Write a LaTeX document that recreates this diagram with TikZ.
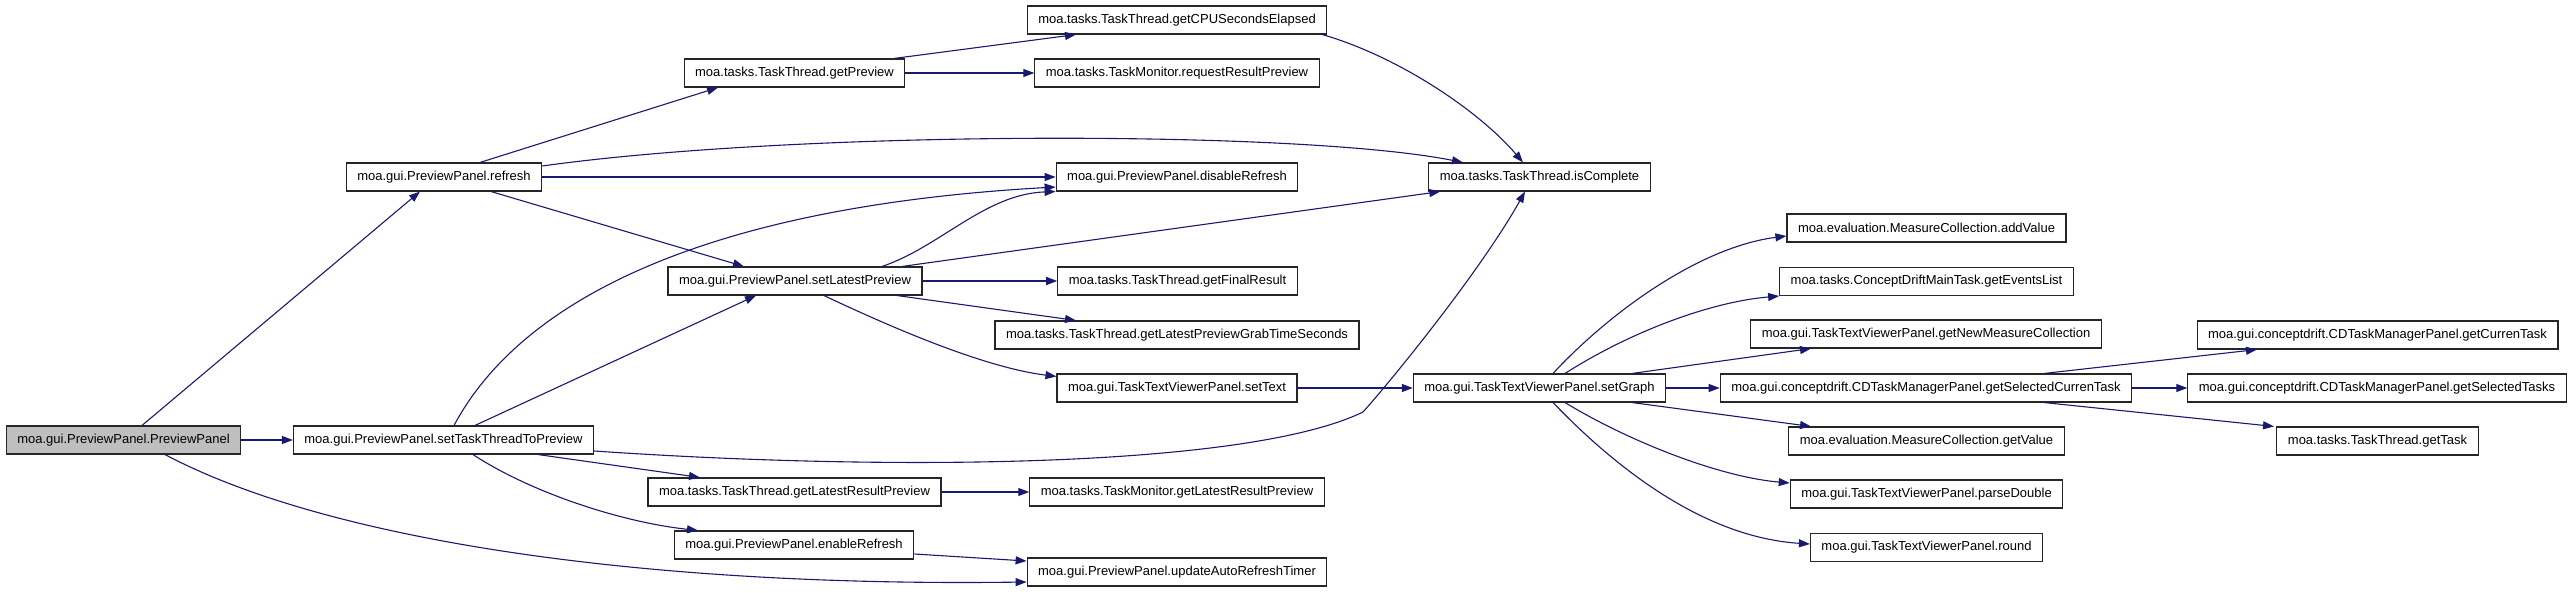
\documentclass[tikz,border=0pt]{standalone}
\usepackage{fontspec}
\setmainfont{Liberation Sans}
\usetikzlibrary{arrows.meta}
\definecolor{edgeblue}{HTML}{191970}
\tikzset{
  fn/.style={draw=black!85, line width=1.1pt, fill=white, inner xsep=11pt, inner ysep=0pt,
    minimum height=28pt, font=\fontsize{13}{15}\selectfont},
  rootfn/.style={fn, fill=black!25},
  call/.style={draw=edgeblue, line width=1.1pt, -{Triangle[length=11pt,width=8pt]}}
}

\begin{document}
\begin{tikzpicture}[x=1pt, y=1pt]
	\useasboundingbox (0,0) rectangle (2576,592);
	% functions
	\node[rootfn] (pp) at (123.5,152) {moa.gui.PreviewPanel.PreviewPanel};
	\node[fn] (refresh) at (444,415) {moa.gui.PreviewPanel.refresh};
	\node[fn] (settask) at (443.5,152) {moa.gui.PreviewPanel.setTaskThreadToPreview};
	\node[fn] (getpreview) at (794.5,519) {moa.tasks.TaskThread.getPreview};
	\node[fn] (setlatest) at (795,311) {moa.gui.PreviewPanel.setLatestPreview};
	\node[fn] (threadlatest) at (794.5,100) {moa.tasks.TaskThread.getLatestResultPreview};
	\node[fn] (enable) at (794,47) {moa.gui.PreviewPanel.enableRefresh};
	\node[fn] (cpusec) at (1177,572) {moa.tasks.TaskThread.getCPUSecondsElapsed};
	\node[fn] (reqpreview) at (1177,519) {moa.tasks.TaskMonitor.requestResultPreview};
	\node[fn] (disable) at (1177,415) {moa.gui.PreviewPanel.disableRefresh};
	\node[fn] (finalresult) at (1177.5,311) {moa.tasks.TaskThread.getFinalResult};
	\node[fn] (grabtime) at (1177,257) {moa.tasks.TaskThread.getLatestPreviewGrabTimeSeconds};
	\node[fn] (settext) at (1177,204) {moa.gui.TaskTextViewerPanel.setText};
	\node[fn] (monitorlatest) at (1177,100) {moa.tasks.TaskMonitor.getLatestResultPreview};
	\node[fn] (autotimer) at (1177,20) {moa.gui.PreviewPanel.updateAutoRefreshTimer};
	\node[fn] (iscomplete) at (1539.5,415) {moa.tasks.TaskThread.isComplete};
	\node[fn] (setgraph) at (1539.5,204) {moa.gui.TaskTextViewerPanel.setGraph};
	\node[fn] (addvalue) at (1926.5,364) {moa.evaluation.MeasureCollection.addValue};
	\node[fn] (eventslist) at (1926.5,310.5) {moa.tasks.ConceptDriftMainTask.getEventsList};
	\node[fn] (newmeasure) at (1926,258) {moa.gui.TaskTextViewerPanel.getNewMeasureCollection};
	\node[fn] (selcurren) at (1926,204) {moa.gui.conceptdrift.CDTaskManagerPanel.getSelectedCurrenTask};
	\node[fn] (getvalue) at (1926.5,151) {moa.evaluation.MeasureCollection.getValue};
	\node[fn] (parsedouble) at (1926.5,98) {moa.gui.TaskTextViewerPanel.parseDouble};
	\node[fn] (round) at (1926.5,44.5) {moa.gui.TaskTextViewerPanel.round};
	\node[fn] (currentask) at (2377.5,257) {moa.gui.conceptdrift.CDTaskManagerPanel.getCurrenTask};
	\node[fn] (seltasks) at (2377,204) {moa.gui.conceptdrift.CDTaskManagerPanel.getSelectedTasks};
	\node[fn] (gettask) at (2377.5,151) {moa.tasks.TaskThread.getTask};

	% calls from the constructor
	\draw[call] ([xshift=18.5]pp.north) -- ([xshift=-24]refresh.south);
	\draw[call] (pp) -- (settask);
	\draw[call] ([xshift=41.5]pp.south) .. controls (330,50) and (650,5) .. ([yshift=-10]autotimer.west);

	% refresh
	\draw[call] ([xshift=36]refresh.north) -- ([xshift=-76.5]getpreview.south);
	\draw[call] ([yshift=11]refresh.east) .. controls (800,462) and (1300,462) .. ([xshift=-76.5]iscomplete.north);
	\draw[call] (refresh) -- (disable);
	\draw[call] ([xshift=47]refresh.south) -- ([xshift=-51]setlatest.north);
	\draw[call] ([xshift=99.5]getpreview.north) -- ([xshift=-101]cpusec.south);
	\draw[call] (getpreview) -- (reqpreview);
	\draw[call] ([xshift=-5]cpusec.south east) .. controls (1400,535) and (1480,480) .. ([xshift=-16.5]iscomplete.north);

	% setLatestPreview
	\draw[call] ([xshift=87]setlatest.north) .. controls (940,345) and (985,398) .. (disable.south west);
	\draw[call] ([xshift=107]setlatest.north) -- ([xshift=12]iscomplete.south west);
	\draw[call] (setlatest) -- (finalresult);
	\draw[call] ([xshift=102]setlatest.south) -- ([xshift=-101]grabtime.north);
	\draw[call] ([xshift=29]setlatest.south) .. controls (880,270) and (980,225) .. ([yshift=-3]settext.north west);
	\draw[call] (settext) -- (setgraph);

	% setTaskThreadToPreview
	\draw[call] ([xshift=31.5]settask.north) -- ([xshift=-39]setlatest.south);
	\draw[call] ([xshift=10.5]settask.north) .. controls (520,290) and (700,385) .. ([yshift=-10]disable.west);
	\draw[call] ([yshift=-11]settask.east) .. controls (900,120) and (1250,125) .. (1363,180)
		.. controls (1390,210) and (1480,320) .. ([xshift=-14.5]iscomplete.south);
	\draw[call] ([xshift=94.5]settask.south) -- ([xshift=-94.5]threadlatest.north);
	\draw[call] ([xshift=29.5]settask.south) .. controls (530,100) and (620,70) .. ([xshift=-96]enable.north);
	\draw[call] (threadlatest) -- (monitorlatest);
	\draw[call] ([yshift=-9]enable.east) -- ([yshift=11]autotimer.west);

	% setGraph
	\draw[call] ([xshift=13.5]setgraph.north) .. controls (1610,280) and (1700,345) .. ([yshift=-8]addvalue.west);
	\draw[call] ([xshift=25.5]setgraph.north) .. controls (1630,260) and (1710,290) .. (eventslist.south west);
	\draw[call] ([xshift=92.5]setgraph.north) -- ([xshift=-115]newmeasure.south);
	\draw[call] (setgraph) -- (selcurren);
	\draw[call] ([xshift=92.5]setgraph.south) -- ([xshift=-115.5]getvalue.north);
	\draw[call] ([xshift=25.5]setgraph.south) .. controls (1630,150) and (1720,115) .. ([yshift=11]parsedouble.west);
	\draw[call] ([xshift=13.5]setgraph.south) .. controls (1610,130) and (1700,55) .. ([yshift=3.5]round.west);
	\draw[call] ([xshift=118]selcurren.north) -- ([xshift=-120.5]currentask.south);
	\draw[call] (selcurren) -- (seltasks);
	\draw[call] ([xshift=118]selcurren.south) -- ([xshift=-103.5]gettask.north);
\end{tikzpicture}
\end{document}
